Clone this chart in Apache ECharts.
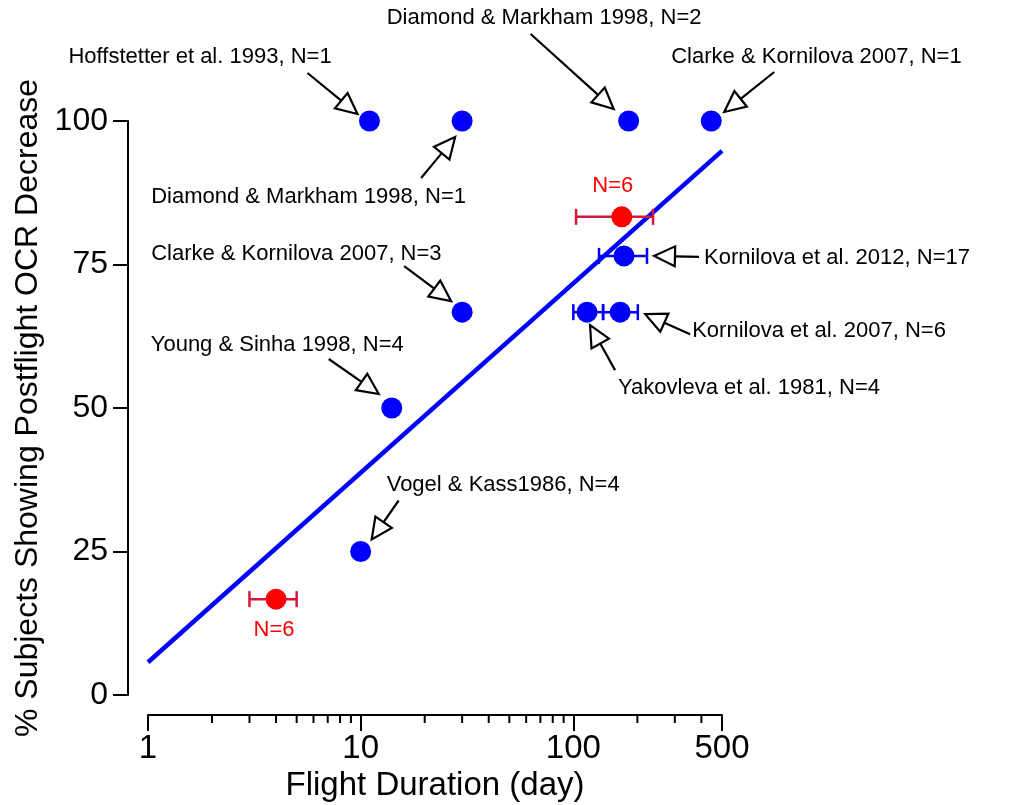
<!DOCTYPE html>
<html><head><meta charset="utf-8">
<script src="https://cdn.jsdelivr.net/npm/echarts@6/dist/echarts.min.js"></script>
<style>html,body{margin:0;padding:0;background:#fff}#c{width:1009px;height:805px}</style>
</head><body><div id="c"></div>
<script>
// ---------- data ----------
const studyLabels = [
  'Hoffstetter et al. 1993, N=1',
  'Diamond & Markham 1998, N=1',
  'Diamond & Markham 1998, N=2',
  'Clarke & Kornilova 2007, N=1',
  'Clarke & Kornilova 2007, N=3',
  'Young & Sinha 1998, N=4',
  'Vogel & Kass1986, N=4',
  'Kornilova et al. 2012, N=17',
  'Kornilova et al. 2007, N=6',
  'Yakovleva et al. 1981, N=4'
];
const studyDays = [11, 30, 182, 445, 30, 14, 10, 173, 166, 116];
const studyPct  = [100, 100, 100, 100, 66.7, 50, 25, 76.5, 66.7, 66.7];
const studyErrLow  = [null, null, null, null, null, null, null, 132, 138, 100];
const studyErrHigh = [null, null, null, null, null, null, null, 222, 201, 138];

const redLabels = ['N=6', 'N=6'];
const redDays = [4, 169];
const redPct = [16.7, 83.3];
const redErrLow = [3, 103];
const redErrHigh = [5, 237];

const fitDays = [1, 500];
const fitPct = [5.7, 94.8];

const yTicks = [0, 25, 50, 75, 100];
const xTickLabels = [1, 10, 100, 500];
const minorTickDays = [2,3,4,5,6,7,8,9,20,30,40,50,60,70,80,90,200,300,400];

// ---------- annotation layout (pixel offsets from the point) ----------
const annTextOff = [[-301,-64],[-311,76],[-242,-103],[-40,-64],[-311,-58],[-241,-63],[26,-67],[80,2],[72,19],[31,76]];
const annTailOff = [[-62,-48],[-41,57],[-98,-87],[63,-49],[-58,-46],[-63,-49],[38,-51],[75,1],[70,22],[28,58]];
const annTipOff  = [[-12,-7],[-7,16],[-15,-12],[13,-9],[-11,-11],[-13,-14],[11,-12],[30,0],[25,2],[3,13]];
const redTextOff = [[-2,31],[-9,-31]];

const FONT = "'Liberation Sans', Arial, Helvetica, sans-serif";
const BLUE = '#0000ff';
const RED = '#ff0000';
const RED_BAR = '#d4163a';

const chart = echarts.init(document.getElementById('c'));

function arrowShape(tail, tip) {
  const dx = tip[0] - tail[0], dy = tip[1] - tail[1];
  const len = Math.sqrt(dx*dx + dy*dy);
  const ux = dx/len, uy = dy/len;
  const hl = 21, hw = 10;
  const bx = tip[0] - ux*hl, by = tip[1] - uy*hl;
  const px = -uy, py = ux;
  return [
    {type:'line', shape:{x1:tail[0], y1:tail[1], x2:bx, y2:by}, style:{stroke:'#000', lineWidth:2.2}},
    {type:'polygon', shape:{points:[[tip[0],tip[1]],[bx+px*hw,by+py*hw],[bx-px*hw,by-py*hw]]},
     style:{fill:'#fff', stroke:'#000', lineWidth:2.2, lineJoin:'miter'}}
  ];
}

const errData = [];
studyDays.forEach((d,i)=>{ if (studyErrLow[i] != null) errData.push([studyErrLow[i], studyErrHigh[i], studyPct[i], 0]); });
redDays.forEach((d,i)=>{ errData.push([redErrLow[i], redErrHigh[i], redPct[i], 1]); });

const option = {
  animation: false,
  backgroundColor: '#fff',
  grid: [
    {left:148, right:287, top:121, bottom:110, containLabel:false, outerBoundsMode:'none'},
    {left:148, right:287, top:714, height:1, containLabel:false, outerBoundsMode:'none'}
  ],
  xAxis: [
    {gridIndex:0, type:'log', logBase:10, min:1, max:500, show:false},
    {
      gridIndex:1, type:'log', logBase:10, min:1, max:500, position:'bottom',
      axisLine:{show:true, lineStyle:{color:'#000', width:2}},
      axisTick:{show:true, length:16, lineStyle:{color:'#000', width:2}},
      axisLabel:{fontSize:33, color:'#000', fontFamily:FONT, margin:17,
        formatter: v => String(Math.round(v))},
      splitLine:{show:false},
      name:'Flight Duration (day)', nameLocation:'middle', nameGap:54,
      nameTextStyle:{fontSize:33, color:'#000', fontFamily:FONT}
    }
  ],
  yAxis: [
    {
      gridIndex:0, type:'value', min:yTicks[0], max:yTicks[yTicks.length-1], interval:25, offset:20,
      axisLine:{show:true, lineStyle:{color:'#000', width:2}},
      axisTick:{show:true, length:15, lineStyle:{color:'#000', width:2}},
      axisLabel:{fontSize:32, color:'#000', fontFamily:FONT, margin:20},
      splitLine:{show:false},
      name:'% Subjects Showing Postflight OCR Decrease', nameLocation:'middle', nameGap:70,
      nameTextStyle:{fontSize:32, color:'#000', fontFamily:FONT}
    },
    {gridIndex:1, type:'value', min:0, max:1, show:false}
  ],
  series: [
    { // minor ticks on log axis
      type:'custom', silent:true, z:1, xAxisIndex:1, yAxisIndex:1,
      data: minorTickDays.map(v=>[v, 0]),
      renderItem: (params, api) => {
        const p = api.coord([api.value(0), 0]);
        return {type:'line', shape:{x1:p[0], y1:p[1], x2:p[0], y2:p[1]+8}, style:{stroke:'#000', lineWidth:2}};
      }
    },
    { // fit line
      type:'line', z:2, silent:true, symbol:'none',
      data: fitDays.map((d,i)=>[d, fitPct[i]]),
      lineStyle:{color:BLUE, width:4.5}
    },
    { // error bars
      type:'custom', z:3, silent:true,
      data: errData,
      renderItem: (params, api) => {
        const a = api.coord([api.value(0), api.value(2)]);
        const b = api.coord([api.value(1), api.value(2)]);
        const c = api.value(3) === 1 ? RED_BAR : BLUE;
        const st = {stroke:c, lineWidth:2.5};
        return {type:'group', children:[
          {type:'line', shape:{x1:a[0], y1:a[1], x2:b[0], y2:b[1]}, style:st},
          {type:'line', shape:{x1:a[0], y1:a[1]-8, x2:a[0], y2:a[1]+8}, style:st},
          {type:'line', shape:{x1:b[0], y1:b[1]-8, x2:b[0], y2:b[1]+8}, style:st}
        ]};
      }
    },
    {
      type:'scatter', z:4, symbol:'circle', symbolSize:21,
      data: studyDays.map((d,i)=>[d, studyPct[i]]),
      itemStyle:{color:BLUE, opacity:1}
    },
    {
      type:'scatter', z:4, symbol:'circle', symbolSize:21,
      data: redDays.map((d,i)=>[d, redPct[i]]),
      itemStyle:{color:RED, opacity:1}
    },
    { // annotations with arrows
      type:'custom', z:5, silent:true,
      data: studyDays.map((d,i)=>[d, studyPct[i], i]),
      renderItem: (params, api) => {
        const i = api.value(2);
        const p = api.coord([api.value(0), api.value(1)]);
        const tail = [p[0]+annTailOff[i][0], p[1]+annTailOff[i][1]];
        const tip = [p[0]+annTipOff[i][0], p[1]+annTipOff[i][1]];
        const children = arrowShape(tail, tip);
        children.push({type:'text', style:{
          text: studyLabels[i], x: p[0]+annTextOff[i][0], y: p[1]+annTextOff[i][1],
          fill:'#000', fontSize:22, fontFamily:FONT, align:'left', verticalAlign:'middle'}});
        return {type:'group', children};
      }
    },
    { // red N labels
      type:'custom', z:5, silent:true,
      data: redDays.map((d,i)=>[d, redPct[i], i]),
      renderItem: (params, api) => {
        const i = api.value(2);
        const p = api.coord([api.value(0), api.value(1)]);
        return {type:'text', style:{
          text: redLabels[i], x: p[0]+redTextOff[i][0], y: p[1]+redTextOff[i][1],
          fill:RED, fontSize:22, fontFamily:FONT, align:'center', verticalAlign:'middle'}};
      }
    }
  ]
};
chart.setOption(option);
</script>
</body></html>
